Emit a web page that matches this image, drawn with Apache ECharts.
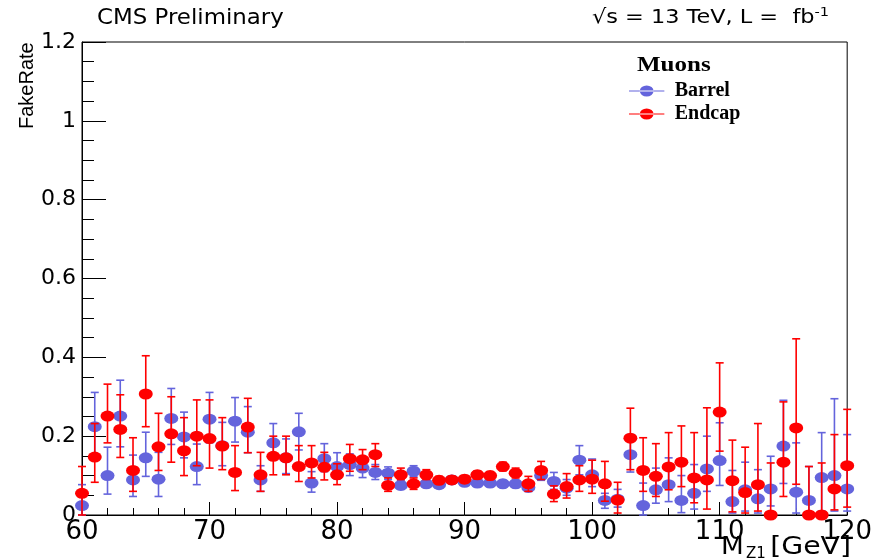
<!DOCTYPE html>
<html>
<head>
<meta charset="utf-8">
<script src="https://cdn.jsdelivr.net/npm/echarts@6/dist/echarts.min.js"></script>
<style>
html,body{margin:0;padding:0;background:#fff;}
#chart{width:875px;height:559px;}
</style>
</head>
<body>
<div id="chart"></div>
<script>
// M_Z1 bins [GeV]
const masses = [60,61,62,63,64,65,66,67,68,69,70,71,72,73,74,75,76,77,78,79,80,81,82,83,84,85,86,87,88,89,90,91,92,93,94,95,96,97,98,99,100,101,102,103,104,105,106,107,108,109,110,111,112,113,114,115,116,117,118,119,120];

const barrel = [0.024,0.224,0.100,0.251,0.089,0.145,0.091,0.245,0.198,0.123, 0.243,0.176,0.238,0.210,0.089,0.183,0.145,0.211,0.081,0.143, 0.123,0.128,0.119,0.108,0.106,0.075,0.111,0.079,0.077,0.089, 0.083,0.081,0.081,0.079,0.079,0.070,0.100,0.085,0.068,0.139, 0.102,0.037,0.040,0.153,0.024,0.064,0.077,0.037,0.055,0.117, 0.138,0.034,0.064,0.041,0.066,0.175,0.058,0.037,0.095,0.100, 0.066];
const barrelLo = [0.000,0.140,0.053,0.173,0.047,0.098,0.047,0.179,0.145,0.077, 0.183,0.125,0.185,0.158,0.060,0.140,0.105,0.165,0.058,0.110, 0.092,0.100,0.095,0.090,0.090,0.065,0.097,0.070,0.068,0.080, 0.075,0.072,0.072,0.070,0.070,0.060,0.088,0.065,0.050,0.102, 0.072,0.017,0.020,0.109,0.000,0.030,0.034,0.006,0.015,0.060, 0.075,0.005,0.010,0.005,0.023,0.080,0.005,0.000,0.010,0.010, 0.010];
const barrelHi = [0.077,0.311,0.172,0.342,0.152,0.210,0.159,0.321,0.261,0.180, 0.311,0.235,0.298,0.275,0.125,0.232,0.193,0.258,0.110,0.181, 0.158,0.155,0.145,0.128,0.122,0.088,0.125,0.090,0.088,0.098, 0.092,0.090,0.090,0.088,0.088,0.082,0.112,0.108,0.090,0.176, 0.142,0.055,0.065,0.204,0.081,0.119,0.145,0.100,0.128,0.200, 0.234,0.113,0.134,0.115,0.149,0.291,0.183,0.123,0.209,0.295, 0.204];

const endcap = [0.055,0.147,0.251,0.217,0.113,0.307,0.173,0.206,0.163,0.200, 0.194,0.175,0.108,0.223,0.102,0.149,0.145,0.123,0.132,0.121, 0.102,0.143,0.140,0.153,0.075,0.102,0.079,0.102,0.088,0.089, 0.091,0.102,0.100,0.123,0.106,0.079,0.113,0.053,0.072,0.089, 0.091,0.079,0.038,0.195,0.113,0.098,0.122,0.134,0.094,0.089, 0.261,0.087,0.057,0.077,0.000,0.134,0.221,0.000,0.000,0.066, 0.125];
const endcapLo = [0.000,0.083,0.183,0.146,0.060,0.224,0.113,0.134,0.100,0.125, 0.119,0.115,0.062,0.158,0.060,0.102,0.102,0.085,0.094,0.089, 0.077,0.111,0.115,0.123,0.060,0.090,0.065,0.090,0.078,0.080, 0.082,0.092,0.090,0.112,0.094,0.060,0.090,0.034,0.043,0.060, 0.055,0.035,0.005,0.115,0.060,0.047,0.064,0.072,0.031,0.015, 0.162,0.008,0.005,0.010,0.000,0.047,0.078,0.000,0.000,0.013, 0.020];
const endcapHi = [0.123,0.232,0.332,0.305,0.196,0.404,0.258,0.300,0.247,0.292, 0.292,0.247,0.176,0.296,0.159,0.200,0.200,0.176,0.176,0.159, 0.130,0.179,0.166,0.181,0.094,0.119,0.094,0.115,0.098,0.098, 0.100,0.112,0.110,0.134,0.119,0.098,0.136,0.074,0.105,0.125, 0.139,0.136,0.083,0.271,0.196,0.181,0.209,0.226,0.209,0.272, 0.386,0.190,0.172,0.232,0.132,0.287,0.447,0.123,0.132,0.204, 0.268];

const BLUE = '#6464dc';
const RED = '#ff0000';

const chart = echarts.init(document.getElementById('chart'), null, {renderer: 'canvas'});

function pts(vals){ return masses.map((m,i)=>[m, vals[i]]); }
function errs(lo, hi){ return masses.map((m,i)=>[m, lo[i], hi[i]]); }

function errRender(color){
  return function(params, api){
    const x = api.value(0);
    const p1 = api.coord([x, api.value(1)]);
    const p2 = api.coord([x, api.value(2)]);
    const cw = 4;
    const st = {stroke: color, lineWidth: 1.6};
    return {
      type: 'group',
      children: [
        {type: 'line', shape: {x1: p1[0], y1: p1[1], x2: p2[0], y2: p2[1]}, style: st},
        {type: 'line', shape: {x1: p1[0]-cw, y1: p1[1], x2: p1[0]+cw, y2: p1[1]}, style: st},
        {type: 'line', shape: {x1: p2[0]-cw, y1: p2[1], x2: p2[0]+cw, y2: p2[1]}, style: st}
      ]
    };
  };
}

const legendIcon = 'path://M0,5 L36,5 L36,6.2 L0,6.2 Z M11,5.6 A7,5.6 0 1 0 25,5.6 A7,5.6 0 1 0 11,5.6 Z';

const option = {
  backgroundColor: '#ffffff',
  animation: false,
  grid: {left: 82, right: 24, top: 42, bottom: 44, show: true, borderColor: '#000', borderWidth: 1, backgroundColor: 'transparent'},
  xAxis: {
    type: 'value', min: 60, max: 120, interval: 10,
    axisLine: {show: true, onZero: false, lineStyle: {color: '#000', width: 1}},
    axisTick: {show: true, inside: true, length: 13, lineStyle: {color: '#000', width: 1}},
    minorTick: {show: true, splitNumber: 5, length: 7, lineStyle: {color: '#000', width: 1}},
    splitLine: {show: false},
    axisLabel: {color: '#000', fontSize: 26, fontFamily: 'DejaVu Sans', margin: 4}
  },
  yAxis: {
    type: 'value', min: 0, max: 1.2, interval: 0.2,
    axisLine: {show: true, lineStyle: {color: '#000', width: 1}},
    axisTick: {show: true, inside: true, length: 24, lineStyle: {color: '#000', width: 1}},
    minorTick: {show: true, splitNumber: 4, length: 12, lineStyle: {color: '#000', width: 1}},
    splitLine: {show: false},
    axisLabel: {color: '#000', fontSize: 22, fontFamily: 'DejaVu Sans', margin: 6}
  },
  legend: {
    orient: 'vertical', left: 624, top: 76,
    itemWidth: 36, itemHeight: 11, itemGap: 3,
    icon: legendIcon,
    textStyle: {color: '#000', fontFamily: 'Liberation Serif', fontWeight: 'bold', fontSize: 20, lineHeight: 16, padding: [0,0,0,5]},
    data: ['Barrel', 'Endcap']
  },
  graphic: [
    {type: 'text', x: 97, y: 8, scaleX: 1.09, style: {text: 'CMS Preliminary', fontFamily: 'DejaVu Sans', fontSize: 21, fill: '#000'}},
    {type: 'text', x: 829, y: 6, scaleX: 1.12, style: {align: 'right', rich: {n: {fontFamily: 'DejaVu Sans', fontSize: 20, fill: '#000'}, s: {fontFamily: 'DejaVu Sans', fontSize: 13, fill: '#000', padding: [0,0,10,0]}}, text: '{n|\u221As = 13 TeV, L =  fb}{s|-1}'}},
    {type: 'text', x: 27, y: 129, rotation: Math.PI/2, style: {text: 'FakeRate', fontFamily: 'Liberation Sans', fontSize: 20, fill: '#000', align: 'left', verticalAlign: 'middle'}},
    {type: 'text', x: 637, y: 56, scaleX: 1.25, style: {text: 'Muons', fontFamily: 'Liberation Serif', fontWeight: 'bold', fontSize: 20, fill: '#000'}},
    {type: 'text', x: 721, y: 536, scaleX: 1.1, style: {text: 'M', fontFamily: 'DejaVu Sans', fontSize: 24, fill: '#000'}},
    {type: 'text', x: 746, y: 547, style: {text: 'Z1', fontFamily: 'DejaVu Sans', fontSize: 15, fill: '#000'}},
    {type: 'text', x: 851, y: 536, scaleX: 1.18, style: {text: '[GeV]', fontFamily: 'DejaVu Sans', fontSize: 24, fill: '#000', align: 'right'}}
  ],
  series: [
    {name: 'BarrelErr', type: 'custom', z: 1, clip: false, renderItem: errRender(BLUE), encode: {x: 0, y: [1, 2]}, data: errs(barrelLo, barrelHi), silent: true},
    {name: 'Barrel', type: 'scatter', z: 2, clip: false, symbol: 'circle', symbolSize: [14, 11], itemStyle: {color: BLUE, opacity: 1}, data: pts(barrel)},
    {name: 'EndcapErr', type: 'custom', z: 3, clip: false, renderItem: errRender(RED), encode: {x: 0, y: [1, 2]}, data: errs(endcapLo, endcapHi), silent: true},
    {name: 'Endcap', type: 'scatter', z: 4, clip: false, symbol: 'circle', symbolSize: [14, 11], itemStyle: {color: RED, opacity: 1}, data: pts(endcap)}
  ]
};
chart.setOption(option);
</script>
</body>
</html>
